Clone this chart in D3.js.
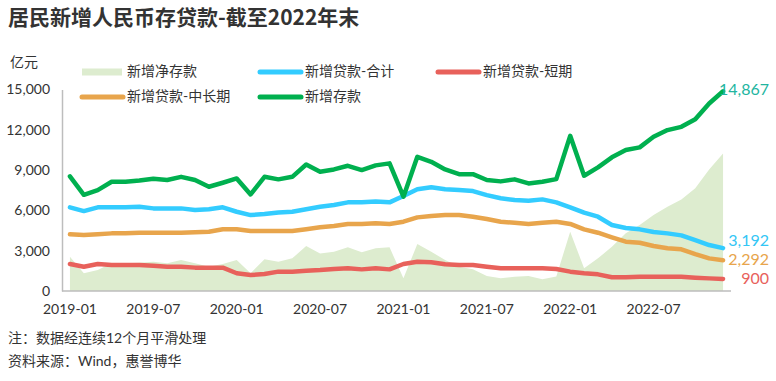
<!DOCTYPE html>
<html><head><meta charset="utf-8">
<script src="https://cdn.jsdelivr.net/npm/d3@7/dist/d3.min.js"></script>
<style>
body{margin:0;background:#fff;}
text{font-family:"Lato","Noto Sans CJK SC",sans-serif;fill:#333;}
</style></head>
<body><svg id="c" width="776" height="381"></svg>
<script>
const months = [];
for (let y = 2019; y <= 2022; y++) for (let m = 1; m <= 12; m++) months.push(y + "-" + String(m).padStart(2, "0"));
const tickLabels = ["2019-01","2019-07","2020-01","2020-07","2021-01","2021-07","2022-01","2022-07"];
const yTicks = [0,3000,6000,9000,12000,15000];

const netDeposit = [2550,1320,1560,2060,2060,2110,2180,2060,2310,2060,1810,2010,2310,1320,2360,2180,2430,3350,2800,2920,3250,2880,3180,3250,940,3500,2920,2310,1810,1610,1120,940,1060,1120,870,1080,4410,1690,2430,3300,4290,4910,5650,6270,6820,7640,9050,10240];
const loanTotal = [6230,5950,6230,6230,6230,6270,6150,6150,6150,6030,6080,6230,5900,5650,5730,5850,5900,6080,6270,6400,6600,6600,6670,6600,7070,7570,7720,7570,7510,7440,7140,6900,6770,6720,6820,6600,6230,5830,5530,4910,4690,4590,4390,4290,4140,3790,3420,3192];
const loanShort = [2010,1810,2010,1930,1930,1930,1880,1810,1810,1740,1740,1740,1320,1190,1260,1440,1440,1510,1560,1640,1690,1610,1690,1610,2010,2180,2140,1990,1930,1930,1810,1690,1690,1690,1690,1640,1440,1320,1240,1020,1020,1060,1060,1060,1060,990,940,900];
const loanLong = [4220,4170,4220,4290,4290,4340,4340,4340,4340,4370,4410,4590,4590,4460,4460,4460,4460,4590,4740,4840,4990,4990,5040,4990,5160,5480,5580,5650,5650,5530,5360,5160,5080,4990,5080,5160,4990,4590,4340,4000,3670,3590,3350,3180,3100,2750,2430,2292];
const deposit = [8530,7160,7510,8130,8130,8220,8360,8260,8500,8260,7760,8060,8380,7190,8500,8310,8500,9420,8880,9050,9320,9000,9350,9500,7020,9990,9620,9050,8700,8700,8260,8160,8310,8010,8130,8330,11550,8580,9200,9950,10490,10690,11480,11980,12220,12780,13960,14867];

const series = [
  {name:"新增贷款-短期", data:loanShort, color:"#e8615b", labelColor:"#e8615b", dy:1.5},
  {name:"新增贷款-中长期", data:loanLong, color:"#e8a54c", labelColor:"#e8a54c", dy:0.5},
  {name:"新增贷款-合计", data:loanTotal, color:"#33ccff", labelColor:"#33c6f5", dy:-6.5},
  {name:"新增存款", data:deposit, color:"#00b04f", labelColor:"#22b5a0", dy:0}
];

const svg = d3.select("#c");
const x = d3.scaleBand().domain(months).range([63, 730]);
const cx = d => x(d) + x.bandwidth()/2;
const y = d3.scaleLinear().domain([0,15000]).range([291, 89.5]);

// title
svg.append("text").attr("x",8).attr("y",25).attr("font-size",21).attr("font-weight","bold")
  .style("font-family",'"Noto Sans CJK SC",sans-serif').text("居民新增人民币存贷款-截至2022年末");
svg.append("text").attr("x",10).attr("y",67).attr("font-size",14).text("亿元");

// area
svg.append("path").datum(netDeposit)
  .attr("fill","#ddeccf")
  .attr("d", d3.area().x((d,i)=>cx(months[i])).y0(y(0)).y1(d=>y(d)));

// axes
const yAxis = svg.append("g").attr("transform","translate(62,0)")
  .call(d3.axisLeft(y).tickValues(yTicks).tickSize(0).tickPadding(12).tickFormat(d3.format(",")));
yAxis.select(".domain").attr("stroke","#bdbdbd").attr("stroke-width",1.5);
yAxis.selectAll("text").attr("font-size",14).style("fill","#333");

const xAxis = svg.append("g").attr("transform","translate(0,291)")
  .call(d3.axisBottom(x).tickValues(tickLabels).tickSize(0).tickPadding(13));
xAxis.select(".domain").attr("stroke","#bdbdbd").attr("stroke-width",1.5).attr("d","M62,0H731");
xAxis.selectAll("text").attr("font-size",14).style("fill","#333");

// lines
const line = d3.line().x((d,i)=>cx(months[i])).y(d=>y(d));
series.forEach(s=>{
  svg.append("path").datum(s.data).attr("fill","none").attr("stroke",s.color)
    .attr("stroke-width",4.5).attr("stroke-linejoin","round").attr("stroke-linecap","round")
    .attr("d", line);
  const v = s.data[s.data.length-1];
  svg.append("text").attr("x",769).attr("y",y(v)+s.dy).attr("text-anchor","end")
    .attr("dominant-baseline","middle").attr("font-size",16).style("fill",s.labelColor)
    .text(d3.format(",")(v));
});

// legend
const legend = [
  {name:"新增净存款", type:"area", color:"#ddeccf", x:82, y:72},
  {name:"新增贷款-合计", type:"line", color:"#33ccff", x:260, y:72},
  {name:"新增贷款-短期", type:"line", color:"#e8615b", x:438, y:72},
  {name:"新增贷款-中长期", type:"line", color:"#e8a54c", x:82, y:97},
  {name:"新增存款", type:"line", color:"#00b04f", x:260, y:97}
];
legend.forEach(l=>{
  if (l.type==="area") {
    svg.append("rect").attr("x",l.x).attr("y",l.y-3.5).attr("width",40).attr("height",7).attr("fill",l.color);
  } else {
    svg.append("line").attr("x1",l.x).attr("x2",l.x+41).attr("y1",l.y).attr("y2",l.y)
      .attr("stroke",l.color).attr("stroke-width",5).attr("stroke-linecap","round");
  }
  svg.append("text").attr("x",l.x+45).attr("y",l.y).attr("dominant-baseline","middle")
    .attr("font-size",14).text(l.name);
});

// notes
svg.append("text").attr("x",8).attr("y",343).attr("font-size",14).text("注：数据经连续12个月平滑处理");
svg.append("text").attr("x",8).attr("y",366).attr("font-size",14).text("资料来源：Wind，惠誉博华");
</script></body></html>
